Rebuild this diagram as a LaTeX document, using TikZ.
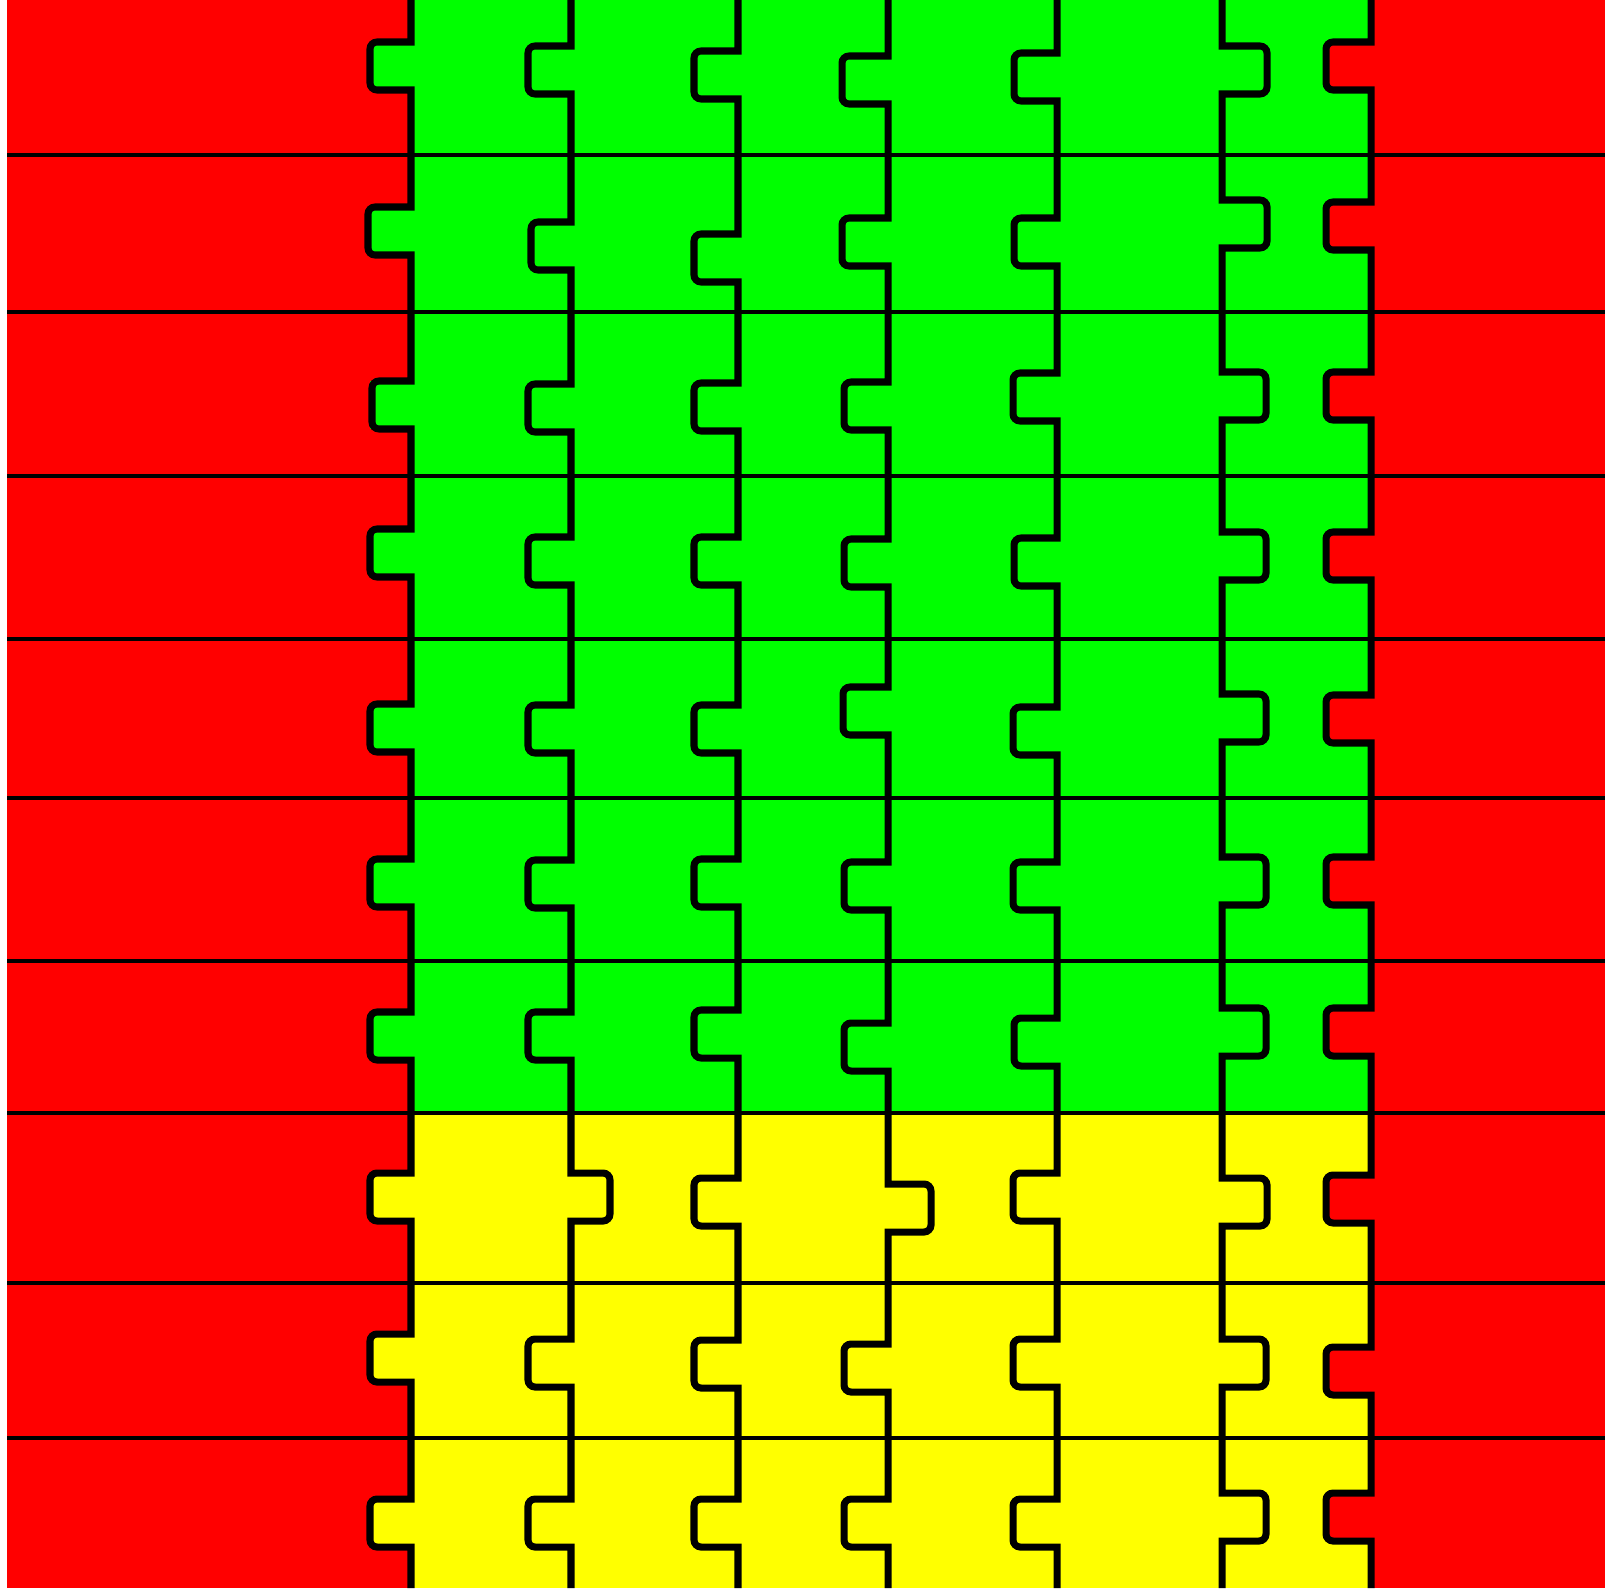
\documentclass[tikz,border=0pt]{standalone}
\usepackage{xcolor}
\usepackage{tikz}
\usetikzlibrary{positioning}

\definecolor{puzred}{RGB}{255,0,0}
\definecolor{puzgreen}{RGB}{0,255,0}
\definecolor{puzyellow}{RGB}{255,255,0}

% one vertical cut with a tab in every row: {x}{centre/offset,...}
\newcommand{\cutline}[2]{%
    \draw[cut] (#1,0) \foreach \yc/\dd in {#2} {
        -- (#1,\yc-24) [rounded corners=2pt] -- ++(\dd,0) -- ++(0,48)
        [sharp corners] -- (#1,\yc+24)
    } -- (#1,1588);
}

\begin{document}
\begin{tikzpicture}[
    x=0.01cm, y=-0.01cm,
    cut/.style={draw=black, line width=2pt},
    rowline/.style={draw=black, line width=1.4pt}
]
\useasboundingbox (0,0) rectangle (1622,1588);

% background and strip
\fill[puzred] (7,0) rectangle (1605,1588);
\fill[puzgreen] (411,0) rectangle (1371,1113);
\fill[puzyellow] (411,1113) rectangle (1371,1588);

% tabs on the outer cuts
\foreach \yc in {66,231,405,553,728,883,1036}
    \fill[puzgreen] (411,\yc-24) rectangle ++(-41,48);
\foreach \yc in {1197,1358,1523}
    \fill[puzyellow] (411,\yc-24) rectangle ++(-41,48);
\foreach \yc in {66,226,396,556,719,881,1032,1199,1371,1517}
    \fill[puzred] (1371,\yc-24) rectangle ++(-45,48);

% rows
\foreach \ry in {155,312,476,639,798,961,1113,1283,1438}
    \draw[rowline] (7,\ry) -- (1605,\ry);

% cuts
\cutline{411}{66/-41,231/-43,405/-39,553/-41,728/-41,883/-41,1036/-41,1197/-41,1358/-41,1523/-41}
\cutline{571}{70/-43,246/-40,408/-43,561/-43,729/-43,884/-43,1036/-43,1197/39,1363/-43,1523/-43}
\cutline{738}{75/-44,258/-44,407/-44,561/-44,729/-44,883/-44,1034/-44,1202/-44,1364/-44,1523/-44}
\cutline{888}{80/-46,242/-46,406/-44,563/-44,711/-45,886/-44,1047/-44,1208/43,1368/-44,1523/-44}
\cutline{1057}{77/-43,242/-43,397/-44,562/-43,731/-44,886/-44,1042/-43,1197/-44,1363/-44,1523/-44}
\cutline{1222}{70/45,224/45,396/44,556/44,718/44,881/44,1032/44,1202/45,1363/44,1517/44}
\cutline{1371}{66/-45,226/-45,396/-45,556/-45,719/-45,881/-45,1032/-45,1199/-45,1371/-45,1517/-45}
\end{tikzpicture}
\end{document}
